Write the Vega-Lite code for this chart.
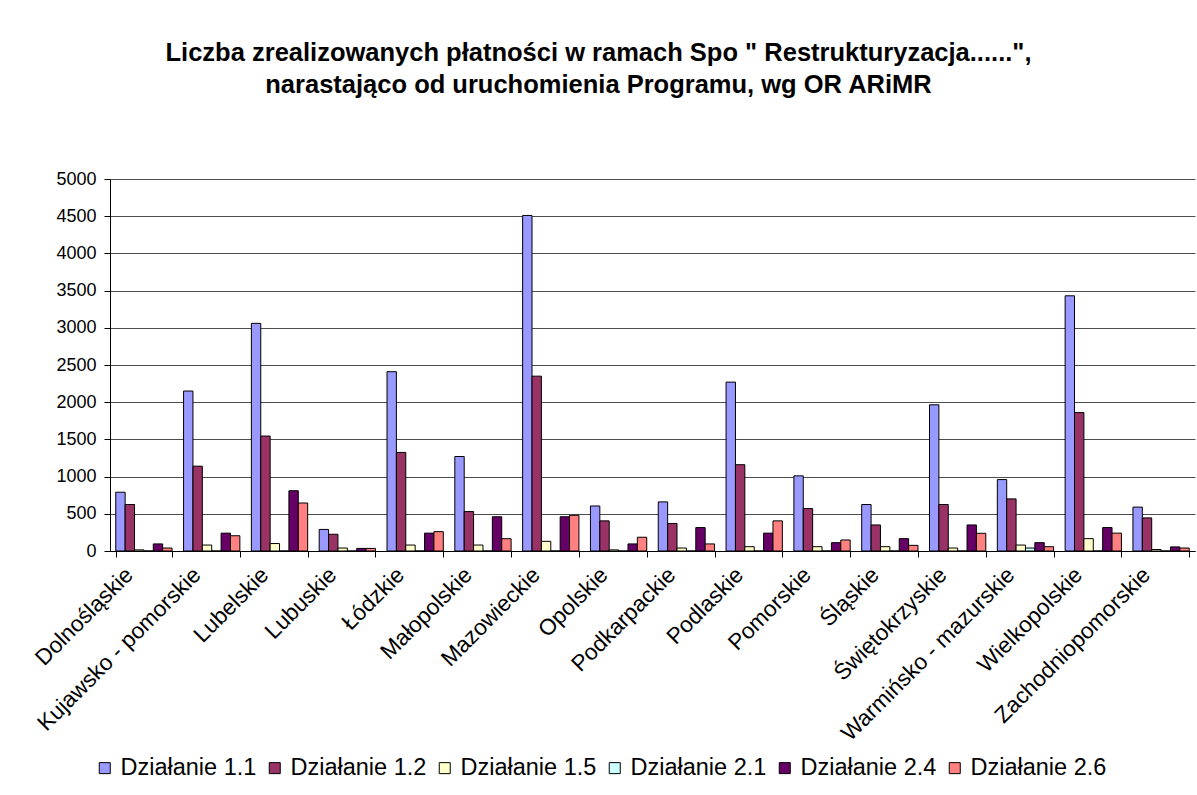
{
  "$schema": "https://vega.github.io/schema/vega-lite/v6.json",
  "width": 1085,
  "height": 372,
  "autosize": {"type": "none"},
  "padding": {"left": 110, "top": 179, "right": 2, "bottom": 244},
  "background": "white",
  "title": {
    "text": ["Liczba zrealizowanych płatności w ramach Spo \" Restrukturyzacja......\",", "narastająco od uruchomienia Programu, wg OR ARiMR"],
    "font": "Liberation Sans",
    "fontSize": 25.5,
    "fontWeight": "bold",
    "color": "black",
    "anchor": "middle",
    "dx": -54,
    "offset": 72,
    "lineHeight": 32
  },
  "data": {
    "values": [
      {"region": "Dolnośląskie", "series": "Działanie 1.1", "value": 790},
      {"region": "Dolnośląskie", "series": "Działanie 1.2", "value": 625},
      {"region": "Dolnośląskie", "series": "Działanie 1.5", "value": 15},
      {"region": "Dolnośląskie", "series": "Działanie 2.1", "value": 0},
      {"region": "Dolnośląskie", "series": "Działanie 2.4", "value": 95},
      {"region": "Dolnośląskie", "series": "Działanie 2.6", "value": 40},
      {"region": "Kujawsko - pomorskie", "series": "Działanie 1.1", "value": 2150},
      {"region": "Kujawsko - pomorskie", "series": "Działanie 1.2", "value": 1140},
      {"region": "Kujawsko - pomorskie", "series": "Działanie 1.5", "value": 80},
      {"region": "Kujawsko - pomorskie", "series": "Działanie 2.1", "value": 0},
      {"region": "Kujawsko - pomorskie", "series": "Działanie 2.4", "value": 240},
      {"region": "Kujawsko - pomorskie", "series": "Działanie 2.6", "value": 205},
      {"region": "Lubelskie", "series": "Działanie 1.1", "value": 3060},
      {"region": "Lubelskie", "series": "Działanie 1.2", "value": 1545},
      {"region": "Lubelskie", "series": "Działanie 1.5", "value": 100},
      {"region": "Lubelskie", "series": "Działanie 2.1", "value": 0},
      {"region": "Lubelskie", "series": "Działanie 2.4", "value": 810},
      {"region": "Lubelskie", "series": "Działanie 2.6", "value": 645},
      {"region": "Lubuskie", "series": "Działanie 1.1", "value": 290},
      {"region": "Lubuskie", "series": "Działanie 1.2", "value": 225},
      {"region": "Lubuskie", "series": "Działanie 1.5", "value": 40},
      {"region": "Lubuskie", "series": "Działanie 2.1", "value": 0},
      {"region": "Lubuskie", "series": "Działanie 2.4", "value": 35},
      {"region": "Lubuskie", "series": "Działanie 2.6", "value": 35},
      {"region": "Łódzkie", "series": "Działanie 1.1", "value": 2410},
      {"region": "Łódzkie", "series": "Działanie 1.2", "value": 1325},
      {"region": "Łódzkie", "series": "Działanie 1.5", "value": 80},
      {"region": "Łódzkie", "series": "Działanie 2.1", "value": 0},
      {"region": "Łódzkie", "series": "Działanie 2.4", "value": 240},
      {"region": "Łódzkie", "series": "Działanie 2.6", "value": 260},
      {"region": "Małopolskie", "series": "Działanie 1.1", "value": 1270},
      {"region": "Małopolskie", "series": "Działanie 1.2", "value": 530},
      {"region": "Małopolskie", "series": "Działanie 1.5", "value": 80},
      {"region": "Małopolskie", "series": "Działanie 2.1", "value": 0},
      {"region": "Małopolskie", "series": "Działanie 2.4", "value": 460},
      {"region": "Małopolskie", "series": "Działanie 2.6", "value": 165},
      {"region": "Mazowieckie", "series": "Działanie 1.1", "value": 4510},
      {"region": "Mazowieckie", "series": "Działanie 1.2", "value": 2350},
      {"region": "Mazowieckie", "series": "Działanie 1.5", "value": 130},
      {"region": "Mazowieckie", "series": "Działanie 2.1", "value": 0},
      {"region": "Mazowieckie", "series": "Działanie 2.4", "value": 460},
      {"region": "Mazowieckie", "series": "Działanie 2.6", "value": 480},
      {"region": "Opolskie", "series": "Działanie 1.1", "value": 605},
      {"region": "Opolskie", "series": "Działanie 1.2", "value": 405},
      {"region": "Opolskie", "series": "Działanie 1.5", "value": 15},
      {"region": "Opolskie", "series": "Działanie 2.1", "value": 0},
      {"region": "Opolskie", "series": "Działanie 2.4", "value": 95},
      {"region": "Opolskie", "series": "Działanie 2.6", "value": 185},
      {"region": "Podkarpackie", "series": "Działanie 1.1", "value": 660},
      {"region": "Podkarpackie", "series": "Działanie 1.2", "value": 370},
      {"region": "Podkarpackie", "series": "Działanie 1.5", "value": 40},
      {"region": "Podkarpackie", "series": "Działanie 2.1", "value": 0},
      {"region": "Podkarpackie", "series": "Działanie 2.4", "value": 315},
      {"region": "Podkarpackie", "series": "Działanie 2.6", "value": 95},
      {"region": "Podlaskie", "series": "Działanie 1.1", "value": 2270},
      {"region": "Podlaskie", "series": "Działanie 1.2", "value": 1160},
      {"region": "Podlaskie", "series": "Działanie 1.5", "value": 58},
      {"region": "Podlaskie", "series": "Działanie 2.1", "value": 0},
      {"region": "Podlaskie", "series": "Działanie 2.4", "value": 240},
      {"region": "Podlaskie", "series": "Działanie 2.6", "value": 405},
      {"region": "Pomorskie", "series": "Działanie 1.1", "value": 1010},
      {"region": "Pomorskie", "series": "Działanie 1.2", "value": 570},
      {"region": "Pomorskie", "series": "Działanie 1.5", "value": 58},
      {"region": "Pomorskie", "series": "Działanie 2.1", "value": 0},
      {"region": "Pomorskie", "series": "Działanie 2.4", "value": 112},
      {"region": "Pomorskie", "series": "Działanie 2.6", "value": 148},
      {"region": "Śląskie", "series": "Działanie 1.1", "value": 625},
      {"region": "Śląskie", "series": "Działanie 1.2", "value": 350},
      {"region": "Śląskie", "series": "Działanie 1.5", "value": 58},
      {"region": "Śląskie", "series": "Działanie 2.1", "value": 0},
      {"region": "Śląskie", "series": "Działanie 2.4", "value": 166},
      {"region": "Śląskie", "series": "Działanie 2.6", "value": 76},
      {"region": "Świętokrzyskie", "series": "Działanie 1.1", "value": 1965},
      {"region": "Świętokrzyskie", "series": "Działanie 1.2", "value": 625},
      {"region": "Świętokrzyskie", "series": "Działanie 1.5", "value": 40},
      {"region": "Świętokrzyskie", "series": "Działanie 2.1", "value": 0},
      {"region": "Świętokrzyskie", "series": "Działanie 2.4", "value": 350},
      {"region": "Świętokrzyskie", "series": "Działanie 2.6", "value": 238},
      {"region": "Warmińsko - mazurskie", "series": "Działanie 1.1", "value": 960},
      {"region": "Warmińsko - mazurskie", "series": "Działanie 1.2", "value": 700},
      {"region": "Warmińsko - mazurskie", "series": "Działanie 1.5", "value": 80},
      {"region": "Warmińsko - mazurskie", "series": "Działanie 2.1", "value": 40},
      {"region": "Warmińsko - mazurskie", "series": "Działanie 2.4", "value": 112},
      {"region": "Warmińsko - mazurskie", "series": "Działanie 2.6", "value": 58},
      {"region": "Wielkopolskie", "series": "Działanie 1.1", "value": 3430},
      {"region": "Wielkopolskie", "series": "Działanie 1.2", "value": 1860},
      {"region": "Wielkopolskie", "series": "Działanie 1.5", "value": 166},
      {"region": "Wielkopolskie", "series": "Działanie 2.1", "value": 0},
      {"region": "Wielkopolskie", "series": "Działanie 2.4", "value": 315},
      {"region": "Wielkopolskie", "series": "Działanie 2.6", "value": 240},
      {"region": "Zachodniopomorskie", "series": "Działanie 1.1", "value": 590},
      {"region": "Zachodniopomorskie", "series": "Działanie 1.2", "value": 445},
      {"region": "Zachodniopomorskie", "series": "Działanie 1.5", "value": 20},
      {"region": "Zachodniopomorskie", "series": "Działanie 2.1", "value": 0},
      {"region": "Zachodniopomorskie", "series": "Działanie 2.4", "value": 55},
      {"region": "Zachodniopomorskie", "series": "Działanie 2.6", "value": 40}
    ]
  },
  "mark": {"type": "bar", "stroke": "black", "strokeWidth": 1},
  "encoding": {
    "x": {
      "field": "region",
      "type": "nominal",
      "sort": null,
      "scale": {"paddingInner": 0.17, "paddingOuter": 0.085},
      "axis": {
        "title": null,
        "labelAngle": -45,
        "labelAlign": "right",
        "labelBaseline": "middle",
        "labelFont": "Liberation Sans",
        "labelFontSize": 22.5,
        "labelColor": "black",
        "labelPadding": 14,
        "labelOffset": -15,
        "labelOverlap": false,
        "labelLimit": 0,
        "tickBand": "extent",
        "tickSize": 6,
        "tickColor": "black",
        "domainColor": "black",
        "grid": false
      }
    },
    "xOffset": {
      "field": "series",
      "type": "nominal",
      "sort": ["Działanie 1.1", "Działanie 1.2", "Działanie 1.5", "Działanie 2.1", "Działanie 2.4", "Działanie 2.6"],
      "scale": {"paddingInner": 0, "paddingOuter": 0}
    },
    "y": {
      "field": "value",
      "type": "quantitative",
      "scale": {"domain": [0, 5000]},
      "axis": {
        "title": null,
        "values": [0, 500, 1000, 1500, 2000, 2500, 3000, 3500, 4000, 4500, 5000],
        "format": "d",
        "labelFont": "Liberation Sans",
        "labelFontSize": 18,
        "labelColor": "black",
        "labelPadding": 8,
        "tickSize": 6,
        "tickColor": "black",
        "domainColor": "black",
        "grid": true,
        "gridColor": "#4d4d4d",
        "gridWidth": 1
      }
    },
    "color": {
      "field": "series",
      "type": "nominal",
      "scale": {
        "domain": ["Działanie 1.1", "Działanie 1.2", "Działanie 1.5", "Działanie 2.1", "Działanie 2.4", "Działanie 2.6"],
        "range": ["#9999FF", "#993366", "#FFFFCC", "#CCFFFF", "#660066", "#FF8080"]
      },
      "legend": {
        "orient": "none",
        "legendX": -17,
        "legendY": 577,
        "direction": "horizontal",
        "title": null,
        "padding": 0,
        "symbolType": "square",
        "symbolSize": 121,
        "symbolStrokeColor": "black",
        "symbolStrokeWidth": 1,
        "symbolOpacity": 1,
        "labelFont": "Liberation Sans",
        "labelFontSize": 23.5,
        "labelColor": "black",
        "labelOffset": 4,
        "labelLimit": 0,
        "columnPadding": 6
      }
    }
  },
  "config": {"font": "Liberation Sans", "view": {"stroke": null}}
}
